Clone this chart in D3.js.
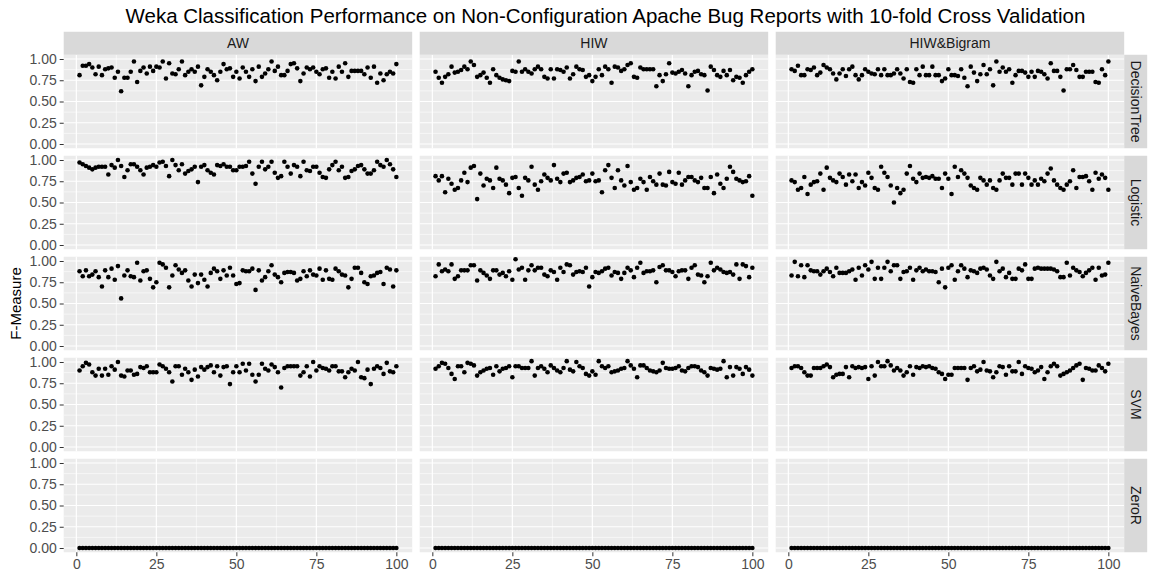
<!DOCTYPE html>
<html>
  <head>
    <style media="screen">
      body { margin: 0; background: #fff; }
      text { font-family: "Liberation Sans", Arial, sans-serif; }
    </style>
  </head>
  <body>
    <svg></svg>
    <script src="https://d3js.org/d3.v7.min.js"></script>
    <script type="text/javascript">

      var features = ["AW", "HIW", "HIW&Bigram"];
      var classifiers = ["DecisionTree", "Logistic", "NaiveBayes", "SVM", "ZeroR"];
      var xTicks = [0, 25, 50, 75, 100];
      var yTicks = [0, 0.25, 0.5, 0.75, 1];
      var xMinor = [12.5, 37.5, 62.5, 87.5];
      var yMinor = [0.125, 0.375, 0.625, 0.875];
      var runs = d3.range(1, 101);

      // F-measure per run
      var dtAW = [0.81,0.92,0.92,0.94,0.90,0.82,0.91,0.81,0.88,0.89,
        0.90,0.78,0.85,0.62,0.78,0.78,0.85,0.97,0.73,0.86,
        0.90,0.83,0.91,0.86,0.91,0.90,0.97,0.77,0.95,0.83,
        0.82,0.88,0.97,0.81,0.85,0.88,0.85,0.91,0.69,0.79,
        0.88,0.85,0.81,0.75,0.85,0.94,0.88,0.89,0.79,0.85,
        0.77,0.90,0.85,0.79,0.88,0.74,0.91,0.79,0.83,0.88,
        0.97,0.86,0.91,0.81,0.81,0.86,0.94,0.95,0.89,0.74,
        0.83,0.90,0.88,0.90,0.85,0.82,0.88,0.89,0.78,0.85,
        0.77,0.91,0.85,0.95,0.79,0.86,0.86,0.86,0.86,0.82,
        0.90,0.78,0.91,0.72,0.83,0.75,0.82,0.85,0.83,0.94];
      var dtHIW = [0.85,0.78,0.72,0.79,0.82,0.91,0.84,0.85,0.87,0.91,
        0.88,0.97,0.93,0.79,0.81,0.84,0.78,0.72,0.88,0.81,
        0.78,0.76,0.75,0.74,0.86,0.85,0.97,0.85,0.88,0.85,
        0.83,0.88,0.91,0.88,0.79,0.77,0.88,0.77,0.88,0.87,
        0.85,0.90,0.77,0.82,0.91,0.88,0.87,0.79,0.81,0.74,
        0.79,0.88,0.81,0.91,0.88,0.72,0.91,0.90,0.86,0.88,
        0.93,0.95,0.79,0.78,0.90,0.88,0.88,0.88,0.88,0.68,
        0.81,0.74,0.82,0.95,0.84,0.83,0.85,0.87,0.83,0.68,
        0.81,0.85,0.86,0.82,0.81,0.63,0.91,0.87,0.81,0.79,
        0.86,0.81,0.87,0.75,0.79,0.78,0.72,0.81,0.85,0.88];
      var dtBigram = [0.88,0.86,0.92,0.81,0.81,0.88,0.87,0.90,0.81,0.84,
        0.93,0.90,0.88,0.83,0.76,0.83,0.88,0.80,0.88,0.91,
        0.81,0.76,0.81,0.88,0.85,0.83,0.82,0.88,0.81,0.88,
        0.81,0.81,0.83,0.88,0.83,0.77,0.88,0.73,0.72,0.88,
        0.81,0.91,0.81,0.81,0.91,0.81,0.81,0.74,0.77,0.88,
        0.81,0.81,0.80,0.88,0.78,0.68,0.91,0.84,0.74,0.82,
        0.93,0.82,0.88,0.69,0.97,0.85,0.90,0.85,0.88,0.72,
        0.81,0.86,0.86,0.84,0.79,0.85,0.79,0.86,0.85,0.82,
        0.77,0.95,0.86,0.86,0.79,0.63,0.88,0.88,0.93,0.87,
        0.79,0.79,0.85,0.85,0.85,0.73,0.72,0.88,0.81,0.97];

      var logAW = [0.97,0.95,0.93,0.91,0.89,0.91,0.92,0.92,0.92,
        0.83,0.94,0.91,1.00,0.93,0.80,0.88,0.95,0.95,0.92,
        0.88,0.83,0.91,0.92,0.94,0.92,0.97,0.98,0.93,0.81,
        1.00,0.94,0.88,0.95,0.84,0.87,0.89,0.92,0.74,0.92,
        0.94,0.88,0.85,0.83,0.94,0.93,0.95,0.92,0.92,0.88,
        0.88,0.92,0.92,0.93,0.98,0.84,0.72,0.92,0.98,0.89,
        0.92,0.98,0.85,0.79,0.81,0.98,0.92,0.84,0.94,0.92,
        0.81,0.98,0.88,0.87,0.92,0.92,0.85,0.80,0.79,0.89,
        0.94,0.98,0.88,0.92,0.79,0.80,0.87,0.89,0.93,0.94,
        0.89,0.84,0.84,0.88,0.98,0.94,0.92,1.00,0.95,0.89,0.80];
      var logHIW = [0.81,0.76,0.81,0.62,0.78,0.72,0.65,0.67,0.76,0.85,
        0.74,0.91,0.93,0.54,0.84,0.70,0.78,0.76,0.67,0.91,
        0.78,0.76,0.71,0.61,0.79,0.80,0.67,0.58,0.79,0.76,
        0.92,0.71,0.65,0.75,0.83,0.79,0.76,0.94,0.78,0.74,
        0.84,0.85,0.74,0.76,0.79,0.80,0.83,0.75,0.76,0.84,
        0.75,0.76,0.62,0.88,0.94,0.79,0.67,0.88,0.76,
        0.70,0.93,0.74,0.65,0.67,0.78,0.74,0.65,0.80,0.75,
        0.71,0.84,0.71,0.70,0.86,0.74,0.72,0.85,0.71,0.76,
        0.80,0.80,0.76,0.74,0.79,0.67,0.67,0.80,0.61,0.83,
        0.72,0.67,0.78,0.92,0.86,0.78,0.76,0.74,0.75,0.81,0.58];
      var logBigram = [0.76,0.74,0.65,0.67,0.80,0.60,0.71,0.74,0.75,0.84,
        0.65,0.91,0.79,0.76,0.74,0.84,0.80,0.71,0.83,0.75,
        0.83,0.67,0.74,0.70,0.85,0.79,0.67,0.65,0.92,0.85,
        0.80,0.70,0.50,0.67,0.61,0.65,0.84,0.93,0.78,0.74,
        0.84,0.79,0.80,0.79,0.81,0.78,0.78,0.67,0.84,0.78,
        0.60,0.92,0.80,0.88,0.84,0.79,0.70,0.67,0.65,0.79,
        0.76,0.71,0.76,0.67,0.65,0.76,0.84,0.79,0.79,0.71,
        0.84,0.84,0.71,0.84,0.79,0.71,0.76,0.71,0.78,0.75,
        0.84,0.90,0.76,0.71,0.67,0.65,0.71,0.75,0.88,0.67,
        0.80,0.80,0.81,0.75,0.65,0.85,0.78,0.83,0.79,0.65];

      var nbAW = [0.88,0.82,0.89,0.82,0.84,0.88,0.81,0.70,0.89,0.81,
        0.91,0.78,0.94,0.56,0.83,0.89,0.82,0.81,0.98,0.77,
        0.88,0.89,0.79,0.69,0.75,0.98,0.96,0.92,0.69,0.83,
        0.95,0.90,0.86,0.89,0.77,0.70,0.84,0.74,0.84,0.78,
        0.70,0.86,0.91,0.88,0.79,0.89,0.83,0.92,0.83,0.73,
        0.74,0.89,0.88,0.88,0.91,0.66,0.89,0.77,0.81,0.88,
        0.95,0.84,0.81,0.75,0.86,0.87,0.87,0.86,0.77,0.79,
        0.88,0.82,0.89,0.84,0.83,0.91,0.78,0.89,0.79,0.78,
        0.91,0.88,0.84,0.83,0.69,0.79,0.92,0.92,0.86,0.75,
        0.73,0.82,0.83,0.86,0.87,0.73,0.92,0.90,0.70,0.89];
      var nbHIW = [0.82,0.96,0.88,0.90,0.88,0.96,0.79,0.82,0.89,0.89,
        0.89,0.95,0.95,0.77,0.89,0.86,0.83,0.79,0.89,0.89,
        0.84,0.86,0.82,0.88,0.78,1.02,0.90,0.92,0.78,0.89,
        0.95,0.89,0.92,0.92,0.84,0.82,0.89,0.87,0.78,0.92,
        0.87,0.96,0.95,0.84,0.87,0.88,0.87,0.92,0.70,0.81,
        0.87,0.86,0.88,0.91,0.92,0.83,0.87,0.86,0.79,0.86,
        0.92,0.89,0.81,0.92,0.98,0.86,0.88,0.88,0.89,0.75,
        0.93,0.95,0.89,0.89,0.87,0.82,0.88,0.89,0.89,0.79,
        0.92,0.95,0.84,0.83,0.75,0.82,0.98,0.89,0.92,0.90,
        0.87,0.86,0.87,0.84,0.96,0.79,0.96,0.94,0.81,0.92];
      var nbBigram = [0.83,0.99,0.82,0.95,0.81,0.95,0.89,0.88,0.88,0.84,
        0.88,0.91,0.87,0.82,0.92,0.86,0.86,0.86,0.88,0.90,
        0.78,0.92,0.83,0.95,0.90,0.99,0.79,0.92,0.79,0.92,
        0.99,0.88,0.95,0.95,0.79,0.87,0.88,0.92,0.78,0.89,
        0.92,0.88,0.90,0.88,0.88,0.87,0.75,0.91,0.69,0.92,
        0.95,0.78,0.88,0.95,0.91,0.81,0.89,0.88,0.86,0.91,
        0.92,0.90,0.83,0.79,0.99,0.88,0.91,0.81,0.86,0.79,
        0.79,0.91,0.89,0.96,0.79,0.79,0.91,0.92,0.91,0.91,
        0.91,0.91,0.90,0.88,0.81,0.81,0.98,0.83,0.92,0.89,
        0.87,0.82,0.86,0.89,0.92,0.78,0.92,0.83,0.84,0.98];

      var svmAW = [0.90,0.95,0.99,0.97,0.88,0.84,0.92,0.84,0.92,0.85,
        0.95,0.91,1.00,0.84,0.83,0.90,0.90,0.85,0.86,0.94,
        0.93,0.95,0.88,0.88,0.88,0.97,0.95,0.92,0.88,0.77,
        0.95,0.95,0.85,0.92,0.88,0.79,0.91,0.83,0.94,0.91,
        0.94,0.96,0.88,0.95,0.84,0.94,0.95,0.74,0.88,0.95,
        0.88,0.98,0.90,0.98,0.85,0.77,0.85,0.98,0.92,0.90,
        0.97,0.94,0.88,0.70,0.93,0.95,0.95,0.95,0.95,0.84,
        0.88,0.95,0.83,1.00,0.90,0.95,0.93,0.92,0.90,0.95,
        0.95,0.89,0.89,0.82,0.88,0.92,0.90,1.00,0.82,0.81,
        0.91,0.74,0.92,0.95,0.93,0.86,0.99,0.89,0.88,0.95];
      var svmHIW = [0.92,0.95,0.99,0.98,0.93,0.86,0.80,0.95,0.95,0.88,
        0.99,0.98,0.96,0.84,0.88,0.90,0.92,0.93,0.85,0.95,
        0.89,0.92,0.93,0.95,0.82,0.95,0.95,0.93,0.93,0.93,
        1.01,0.84,0.93,0.95,0.92,0.88,0.96,0.93,0.90,0.88,
        0.93,1.01,0.91,0.89,1.00,0.95,0.93,0.86,0.84,0.89,
        0.85,1.01,0.95,0.93,0.95,0.88,0.89,0.90,0.92,0.93,
        1.01,0.96,0.92,0.82,0.96,0.96,0.93,0.90,0.89,0.88,
        0.90,0.99,0.93,0.92,0.92,0.93,0.95,0.90,0.89,0.93,
        0.95,0.95,0.94,0.90,0.88,0.84,0.93,0.92,0.91,0.92,
        1.01,0.82,0.94,0.84,0.94,0.92,0.86,0.94,0.91,0.84];
      var svmBigram = [0.93,0.95,0.95,0.93,0.88,0.84,0.84,0.93,0.93,0.93,
        0.95,0.97,0.94,0.82,0.85,0.86,0.86,0.94,0.82,0.95,
        0.93,0.94,0.93,0.94,0.80,0.95,0.84,1.00,0.95,0.95,
        1.01,0.96,0.90,0.93,0.90,0.84,0.88,0.95,0.85,0.94,
        0.93,0.95,0.94,0.95,0.93,0.92,0.88,0.86,0.80,0.85,
        0.85,0.93,0.93,0.93,0.93,0.79,0.93,0.95,0.89,0.91,
        1.00,0.90,0.89,0.82,0.88,0.95,0.94,0.85,0.95,0.89,
        0.89,1.00,0.86,0.95,0.93,0.92,0.88,0.90,0.94,0.80,
        0.88,0.95,0.98,0.95,0.84,0.86,0.88,0.90,0.93,0.96,
        0.98,0.79,0.93,0.92,0.90,0.90,0.96,0.93,0.89,0.98];

      var zeroRAW = [0,0,0,0,0,0,0,0,0,0, 0,0,0,0,0,0,0,0,0,0,
        0,0,0,0,0,0,0,0,0,0, 0,0,0,0,0,0,0,0,0,0,
        0,0,0,0,0,0,0,0,0,0, 0,0,0,0,0,0,0,0,0,0,
        0,0,0,0,0,0,0,0,0,0, 0,0,0,0,0,0,0,0,0,0,
        0,0,0,0,0,0,0,0,0,0, 0,0,0,0,0,0,0,0,0,0];
      var zeroRHIW = [0,0,0,0,0,0,0,0,0,0, 0,0,0,0,0,0,0,0,0,0,
        0,0,0,0,0,0,0,0,0,0, 0,0,0,0,0,0,0,0,0,0,
        0,0,0,0,0,0,0,0,0,0, 0,0,0,0,0,0,0,0,0,0,
        0,0,0,0,0,0,0,0,0,0, 0,0,0,0,0,0,0,0,0,0,
        0,0,0,0,0,0,0,0,0,0, 0,0,0,0,0,0,0,0,0,0];
      var zeroRBigram = [0,0,0,0,0,0,0,0,0,0, 0,0,0,0,0,0,0,0,0,0,
        0,0,0,0,0,0,0,0,0,0, 0,0,0,0,0,0,0,0,0,0,
        0,0,0,0,0,0,0,0,0,0, 0,0,0,0,0,0,0,0,0,0,
        0,0,0,0,0,0,0,0,0,0, 0,0,0,0,0,0,0,0,0,0,
        0,0,0,0,0,0,0,0,0,0, 0,0,0,0,0,0,0,0,0,0];

      var scores = {
        DecisionTree: [dtAW, dtHIW, dtBigram],
        Logistic: [logAW, logHIW, logBigram],
        NaiveBayes: [nbAW, nbHIW, nbBigram],
        SVM: [svmAW, svmHIW, svmBigram],
        ZeroR: [zeroRAW, zeroRHIW, zeroRBigram]
      };

      draw();

      function draw() {
        var svgWidth = 1149, svgHeight = 577;
        var left = 63.7, top = 54.75;
        var panelW = 348.5, panelH = 93.5, gap = 7.5, strip = 23;
        var tickFont = "14px";

        var svg = d3.select("svg")
          .attr("width", svgWidth)
          .attr("height", svgHeight)

        var x = d3.scaleLinear().domain([-3.95, 104.95]).range([0, panelW])
        var y = d3.scaleLinear().domain([-0.05, 1.05]).range([panelH, 0])

        svg.append("text")
          .text("Weka Classification Performance on Non-Configuration Apache Bug Reports with 10-fold Cross Validation")
          .attr("x", (left + 3 * panelW + 2 * gap + strip + left) / 2)
          .attr("y", 23)
          .attr("text-anchor", "middle")
          .attr("font-size", "20.5px")
          .attr("fill", "#000")

        svg.append("text")
          .text("F-Measure")
          .attr("transform", "translate(16," + (top + (5 * panelH + 4 * gap) / 2) + ") rotate(-90)")
          .attr("text-anchor", "middle")
          .attr("dy", "0.35em")
          .attr("font-size", "15px")
          .attr("fill", "#000")

        classifiers.forEach((cls, r) => {
          features.forEach((feat, c) => {
            var g = svg.append("g")
              .attr("transform", "translate(" + (left + c * (panelW + gap)) + "," + (top + r * (panelH + gap)) + ")")

            g.append("rect")
              .attr("width", panelW)
              .attr("height", panelH)
              .attr("fill", "#EBEBEB")

            // grid lines
            g.selectAll(".ymin").data(yMinor).join("line")
              .attr("x1", 0).attr("x2", panelW)
              .attr("y1", d => y(d)).attr("y2", d => y(d))
              .attr("stroke", "#fff").attr("stroke-width", 0.6)
            g.selectAll(".xmin").data(xMinor).join("line")
              .attr("y1", 0).attr("y2", panelH)
              .attr("x1", d => x(d)).attr("x2", d => x(d))
              .attr("stroke", "#fff").attr("stroke-width", 0.6)
            g.selectAll(".ymaj").data(yTicks).join("line")
              .attr("x1", 0).attr("x2", panelW)
              .attr("y1", d => y(d)).attr("y2", d => y(d))
              .attr("stroke", "#fff").attr("stroke-width", 1.2)
            g.selectAll(".xmaj").data(xTicks).join("line")
              .attr("y1", 0).attr("y2", panelH)
              .attr("x1", d => x(d)).attr("x2", d => x(d))
              .attr("stroke", "#fff").attr("stroke-width", 1.2)

            g.append("g").selectAll("circle")
              .data(scores[cls][c])
              .join("circle")
              .attr("cx", (d, i) => x(runs[i]))
              .attr("cy", d => y(d))
              .attr("r", 2.3)
              .attr("fill", "#000")

            if (c == 0) {
              var ax = g.append("g")
                .call(d3.axisLeft(y).tickValues(yTicks).tickSize(4).tickPadding(3).tickFormat(d3.format(".2f")))
              ax.select(".domain").remove()
              ax.selectAll("line").attr("stroke", "#333")
              ax.selectAll("text").attr("fill", "#4D4D4D").attr("font-size", tickFont).attr("font-family", null)
            }
            if (r == classifiers.length - 1) {
              var bx = g.append("g")
                .attr("transform", "translate(0," + panelH + ")")
                .call(d3.axisBottom(x).tickValues(xTicks).tickSize(4).tickPadding(3))
              bx.select(".domain").remove()
              bx.selectAll("line").attr("stroke", "#333")
              bx.selectAll("text").attr("fill", "#4D4D4D").attr("font-size", tickFont).attr("font-family", null)
            }
            if (r == 0) {
              g.append("rect")
                .attr("y", -strip)
                .attr("width", panelW)
                .attr("height", strip)
                .attr("fill", "#D9D9D9")
              g.append("text")
                .text(feat)
                .attr("x", panelW / 2)
                .attr("y", -strip / 2)
                .attr("dy", "0.35em")
                .attr("text-anchor", "middle")
                .attr("font-size", tickFont)
                .attr("fill", "#1A1A1A")
            }
            if (c == features.length - 1) {
              g.append("rect")
                .attr("x", panelW)
                .attr("width", strip)
                .attr("height", panelH)
                .attr("fill", "#D9D9D9")
              g.append("text")
                .text(cls)
                .attr("transform", "translate(" + (panelW + strip / 2) + "," + (panelH / 2) + ") rotate(90)")
                .attr("dy", "0.35em")
                .attr("text-anchor", "middle")
                .attr("font-size", tickFont)
                .attr("fill", "#1A1A1A")
            }
          })
        })
      }
    </script>
  </body>
</html>
